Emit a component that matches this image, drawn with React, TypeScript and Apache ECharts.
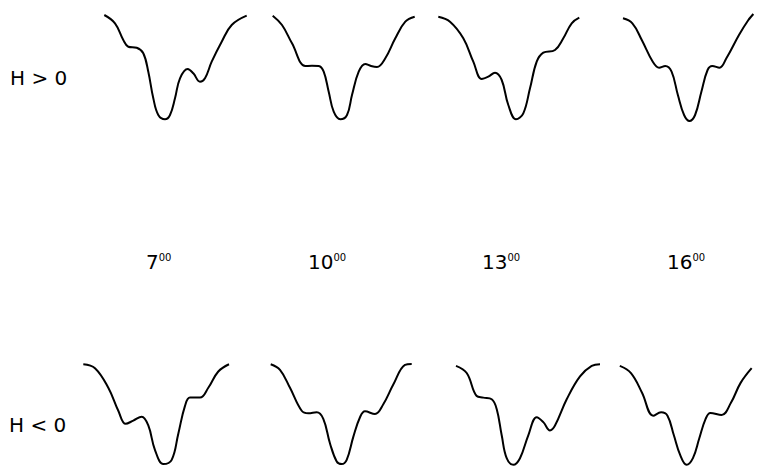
import React, { useEffect, useRef } from 'react';
import * as echarts from 'echarts';

const HOURS = ['7', '10', '13', '16'];
const HOUR_SUFFIX = '00';
const ROW_LABELS = ['H > 0', 'H < 0'];

// H > 0 row (x: time-of-profile units, y: signal level)
const TOP_7_X = [4.3, 15, 23.3, 28.3, 36.7, 43.3, 48.3, 53.3, 58.3, 65, 70, 75, 80, 87.7, 93.3, 100, 105, 111.7, 121.7, 131.7, 146.7];
const TOP_7_Y = [107, 98.7, 82, 75.3, 74.3, 68.7, 50.3, 23.7, 7, 2.7, 7, 23.7, 43.7, 53, 48.7, 40.3, 43.7, 60.3, 80.3, 97, 106.3];

const TOP_10_X = [4.7, 14, 24, 37.3, 44, 50.7, 55.7, 60.7, 65.7, 72.3, 79, 84, 90.7, 97.3, 103, 109, 117.3, 127.3, 137.3, 146.7];
const TOP_10_Y = [106.3, 97, 78.7, 56, 56.3, 56, 50.3, 30.3, 10.3, 2.7, 7, 27, 50.3, 58, 56, 55, 63.7, 83.7, 100.3, 105.3];

const TOP_13_X = [4.3, 16, 29.3, 39.3, 47.7, 54.3, 61, 67.7, 74.3, 82, 89.3, 96, 102.7, 109.3, 121, 129.3, 137.7, 145.3];
const TOP_13_Y = [105.3, 100.3, 83.7, 60.3, 43, 45.3, 49.3, 42, 17, 2.7, 8.7, 33.7, 60.3, 69.3, 72, 83.7, 98.7, 104.3];

const TOP_16_X = [5.3, 15.3, 25.3, 37, 43.7, 50.3, 57, 63.7, 70.3, 76, 82, 88.7, 95.3, 100.3, 108, 115.3, 128.7, 138.7, 144];
const TOP_16_Y = [103.7, 98.7, 82, 60.3, 54.3, 56, 50.3, 27, 7, 1, 7, 30.3, 52, 56, 54.3, 63.7, 87, 102, 108];

// H < 0 row
const BOT_7_X = [3.3, 15, 28.3, 38.3, 45.7, 53.3, 61.7, 68.3, 75, 83.3, 91.7, 98.3, 105, 110, 120, 128.3, 138.3, 149];
const BOT_7_Y = [105.7, 101.7, 81.7, 58.3, 45, 48.3, 52.3, 43.3, 18.3, 4, 8.3, 35, 63.3, 71.7, 71.7, 81.7, 98.3, 105.7];

const BOT_10_X = [4.7, 14, 24, 35.7, 42.3, 50.7, 57.3, 64, 70.7, 75.7, 80.7, 87.3, 94, 99, 109, 117.3, 127.3, 139, 145.7];
const BOT_10_Y = [105.7, 100, 81.7, 58.3, 55.7, 56.7, 50, 25, 6.7, 4, 8.3, 31.7, 51.7, 57.7, 55, 65, 85, 105, 106];

const BOT_13_X = [4, 14.7, 24.7, 31.3, 39.7, 44.7, 49.7, 54.7, 61.3, 68, 76.3, 84.7, 91.3, 98, 103, 114.7, 128, 139.7, 148];
const BOT_13_Y = [104, 96.7, 73.3, 71.7, 70, 60, 33.3, 10, 3.3, 10, 33.3, 51.7, 46.7, 38.3, 43.3, 70, 93.3, 104, 105.7];

const BOT_16_X = [4, 15.7, 27.3, 39, 47.3, 54, 60.7, 67.3, 74, 80.7, 87.3, 94, 99, 110.7, 120.7, 130.7, 142.3];
const BOT_16_Y = [104, 96.7, 76.7, 53.3, 56.7, 53.3, 33.3, 13.3, 3.3, 10, 30, 50, 56, 54, 66.7, 86.7, 101.7];

const CURVES = [
  [TOP_7_X, TOP_7_Y], [TOP_10_X, TOP_10_Y], [TOP_13_X, TOP_13_Y], [TOP_16_X, TOP_16_Y],
  [BOT_7_X, BOT_7_Y], [BOT_10_X, BOT_10_Y], [BOT_13_X, BOT_13_Y], [BOT_16_X, BOT_16_Y],
];

// layout
const GRID_W = 150;
const GRID_H = 110;
const TOP_LEFTS = [100, 268, 434, 618];
const BOT_LEFTS = [80, 266, 452, 616];
const ROW_TOPS = [12, 360];
const HOUR_X = [146, 308, 482, 667];

export default function App() {
  const ref = useRef<HTMLDivElement>(null);
  useEffect(() => {
    if (!ref.current) return;
    const chart = echarts.init(ref.current, undefined, { renderer: 'svg' });
    const grids: any[] = [];
    const xAxes: any[] = [];
    const yAxes: any[] = [];
    const series: any[] = [];
    CURVES.forEach(([xs, ys], i) => {
      const row = i < 4 ? 0 : 1;
      const col = i % 4;
      const left = row === 0 ? TOP_LEFTS[col] : BOT_LEFTS[col];
      grids.push({ left, top: ROW_TOPS[row], width: GRID_W, height: GRID_H, containLabel: false });
      xAxes.push({ type: 'value', gridIndex: i, min: 0, max: GRID_W, show: false });
      yAxes.push({ type: 'value', gridIndex: i, min: 0, max: GRID_H, show: false });
      series.push({
        type: 'line',
        xAxisIndex: i,
        yAxisIndex: i,
        data: xs.map((x, k) => [x, ys[k]]),
        smooth: 0.4,
        showSymbol: false,
        symbol: 'none',
        clip: false,
        lineStyle: { color: '#000', width: 2 },
      });
    });
    const graphic: any[] = [
      {
        type: 'text', x: 10, y: 78,
        style: { text: ROW_LABELS[0], fill: '#000', font: '20px "DejaVu Sans"', textVerticalAlign: 'middle' },
      },
      {
        type: 'text', x: 9, y: 425,
        style: { text: ROW_LABELS[1], fill: '#000', font: '20px "DejaVu Sans"', textVerticalAlign: 'middle' },
      },
      ...HOURS.map((h, i) => ({
        type: 'text', x: HOUR_X[i], y: 262,
        style: {
          text: `{d|${h}}{s|${HOUR_SUFFIX}}`,
          textVerticalAlign: 'middle',
          rich: {
            d: { fontSize: 20, fontFamily: 'DejaVu Sans', fill: '#000' },
            s: { fontSize: 10, fontFamily: 'DejaVu Sans', fill: '#000', verticalAlign: 'top' },
          },
        },
      })),
    ];
    chart.setOption({
      animation: false,
      backgroundColor: '#fff',
      grid: grids,
      xAxis: xAxes,
      yAxis: yAxes,
      series,
      graphic,
    });
    return () => chart.dispose();
  }, []);
  return <div ref={ref} style={{ position: 'fixed', left: 0, top: 0, width: 759, height: 468 }} />;
}
